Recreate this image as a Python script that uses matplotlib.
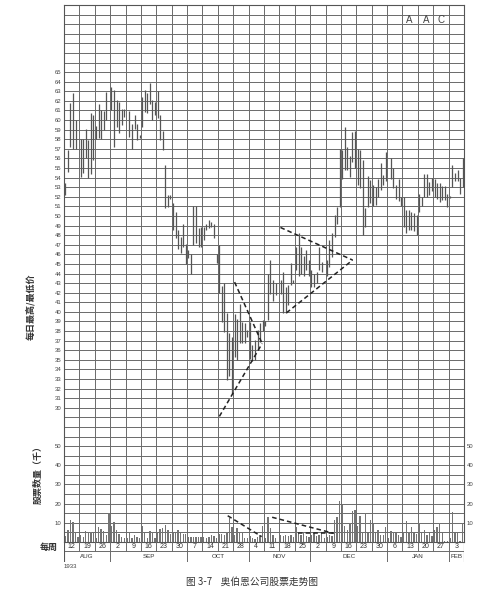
import numpy as np
import matplotlib
matplotlib.use("Agg")
import matplotlib.pyplot as plt

plt.rcParams['font.family'] = ['Liberation Sans', 'Noto Sans CJK SC', 'DejaVu Sans']

nan = np.nan
# Week-ending dates and months
week_labels = ["12", "19", "26", "2", "9", "16", "23", "30", "7", "14", "21", "28",
               "4", "11", "18", "25", "2", "9", "16", "23", "30", "6", "13", "20", "27", "3"]
months = ["AUG", "SEP", "OCT", "NOV", "DEC", "JAN", "FEB"]
month_weeks = [3, 5, 4, 4, 5, 4, 1]

# Daily highs / lows (6 trading days per week)
highs = [
    [53.4, 56.9, 61.8, 62.8, 60.0, nan],
    [58.0, 58.0, 59.1, 57.9, 60.7, 60.5],
    [59.4, 61.7, 61.0, 60.9, 62.9, nan],
    [63.4, 63.1, 62.1, 61.9, 61.2, 61.2],
    [nan, 60.9, 59.6, 60.5, 59.6, 58.4],
    [62.4, 63.1, 62.8, 63.9, 62.1, 61.9],
    [63.0, 60.5, 58.9, 55.3, 52.2, 52.2],
    [51.3, 50.4, 48.5, 47.8, 49.2, 47.1],
    [46.5, 46.0, 51.0, 51.0, 48.7, 48.9],
    [48.9, 49.2, 49.6, 49.4, 49.2, 46.0],
    [47.0, 42.7, 43.0, 39.9, 37.8, 37.4],
    [39.8, 39.3, 40.8, 38.9, 38.8, 38.1],
    [38.9, 36.5, 37.1, 38.1, 38.8, 39.2],
    [39.0, 44.0, 45.4, 43.3, 43.0, nan],
    [43.3, 44.2, 42.6, 42.8, 45.1, 43.3],
    [46.8, 48.2, 46.8, 45.8, 46.5, 45.4],
    [44.4, 44.0, 44.2, 46.8, 45.2, nan],
    [45.4, 47.5, 48.2, 50.1, 50.9, 57.0],
    [56.9, 59.3, 57.2, 56.3, 58.8, 58.9],
    [57.0, 56.9, 55.8, 50.8, 54.2, 53.7],
    [53.2, 53.0, 53.9, 55.5, 54.3, 56.7],
    [nan, 56.0, 55.0, 53.2, 53.9, 52.0],
    [52.0, 50.6, 50.6, 50.4, 50.3, 50.1],
    [52.3, 52.0, 54.4, 54.4, 53.5, 54.0],
    [53.9, 53.4, 53.4, 53.1, 53.1, 52.3],
    [52.1, 55.3, 54.5, 54.8, 54.0, 56.0],
]
lows = [
    [52.2, 54.6, 57.2, 57.0, 57.0, nan],
    [54.1, 54.5, 56.0, 54.0, 54.4, 55.8],
    [58.0, 58.1, 58.0, 59.0, 60.0, nan],
    [61.1, 57.2, 59.3, 58.6, 59.5, 60.3],
    [nan, 58.2, 57.0, 59.1, 57.9, 58.1],
    [59.3, 60.8, 60.7, 61.7, 60.0, 60.5],
    [60.2, 57.9, 56.9, 50.8, 50.9, 51.8],
    [48.5, 47.7, 46.6, 46.1, 46.8, 45.0],
    [45.6, 44.0, 47.0, 47.2, 46.8, 46.8],
    [47.5, 48.5, 48.7, 48.9, 47.7, 45.1],
    [42.0, 38.9, 37.9, 32.9, 33.3, 31.4],
    [35.3, 35.0, 36.8, 36.8, 36.8, 37.4],
    [35.1, 34.9, 35.0, 36.0, 36.9, 38.0],
    [38.5, 39.2, 41.9, 41.1, 41.8, nan],
    [41.9, 39.9, 39.9, 40.7, 42.8, 43.0],
    [44.4, 43.7, 44.0, 43.7, 44.4, 43.7],
    [42.6, 42.6, 43.0, 44.4, 44.2, nan],
    [43.7, 44.7, 45.7, 47.8, 49.2, 50.9],
    [53.9, 54.8, 54.8, 54.1, 55.6, 55.0],
    [53.2, 52.9, 48.0, 48.9, 50.9, 51.3],
    [51.0, 51.1, 52.0, 52.7, 53.2, 53.6],
    [nan, 53.9, 52.9, 51.8, 51.6, 51.0],
    [48.9, 48.2, 48.5, 48.5, 48.4, 48.0],
    [50.4, 51.0, 52.0, 52.0, 52.2, 52.6],
    [52.0, 51.8, 51.5, 51.7, 51.7, 50.9],
    [51.9, 53.0, 53.6, 53.6, 52.3, 53.0],
]
# Daily volume (thousands of shares)
volume = [
    [3.0, 6.0, 11.5, 10.5, 5.0, 2.8],
    [3.6, 2.8, 5.7, 5.4, 5.0, 4.8],
    [1.9, 7.6, 6.8, 5.5, 3.6, 15.0],
    [8.5, 10.6, 6.2, 4.0, 2.8, 1.9],
    [1.9, 4.5, 2.0, 3.6, 2.8, 1.9],
    [8.3, 4.5, 2.3, 5.7, 5.4, 1.9],
    [4.5, 6.6, 7.1, 8.8, 6.2, 4.0],
    [4.5, 5.4, 6.2, 4.8, 4.0, 4.2],
    [2.4, 2.6, 2.7, 2.7, 2.8, 2.8],
    [2.6, 2.2, 2.8, 3.6, 3.3, 2.2],
    [4.0, 4.3, 3.6, 5.0, 12.7, 8.0],
    [3.6, 7.5, 4.5, 4.8, 2.3, 2.3],
    [3.3, 2.3, 1.6, 2.8, 3.6, 8.4],
    [1.9, 13.0, 7.2, 3.7, 1.9, nan],
    [3.7, 3.3, 3.7, 3.2, 3.7, 2.5],
    [7.7, 4.6, 3.7, 4.6, 3.2, 2.5],
    [3.7, 4.6, 3.2, 3.7, 5.4, 2.0],
    [2.5, 3.5, 3.2, 11.6, 13.0, 21.2],
    [19.5, 8.4, 6.3, 9.8, 16.0, 16.8],
    [8.4, 13.3, 5.4, 15.1, 4.6, 11.6],
    [9.5, 4.6, 6.3, 3.7, 3.5, 7.7],
    [2.0, 5.8, 5.4, 4.6, 3.7, 2.8],
    [5.4, 10.7, 5.0, 8.0, 4.6, 4.0],
    [9.8, 4.8, 6.3, 3.7, 4.6, 3.2],
    [6.3, 8.0, 9.8, 4.6, 0.7, 0.5],
    [1.9, 15.4, 4.6, 4.6, 0.7, 9.8],
]
# Trend lines (x in weeks from start, y in price / volume)
tri1_upper_x, tri1_upper_y = [11.09, 12.88], [43.1, 36.7]
tri1_lower_x, tri1_lower_y = [10.10, 12.88], [29.1, 36.7]
tri2_upper_x, tri2_upper_y = [14.07, 18.76], [48.8, 45.4]
tri2_lower_x, tri2_lower_y = [14.46, 18.76], [39.9, 45.4]
vol1_x, vol1_y = [10.64, 12.85], [13.7, 2.8]
vol2_x, vol2_y = [13.53, 17.54], [12.9, 4.5]
vol3_x, vol3_y = [15.24, 17.54], [4.5, 4.5]

W, H = 494, 599
fig = plt.figure(figsize=(W / 100, H / 100), dpi=100)
fig.patch.set_facecolor('white')

L, R, T, B = 64, 464, 5, 542
ax = fig.add_axes([L / W, 1 - B / H, (R - L) / W, (B - T) / H])
nweeks = len(week_labels)
ax.set_xlim(0, nweeks)
ax.set_ylim(16, 72)

gc = '#6a6a6a'
ax.set_xticks(range(0, nweeks + 1))
ax.set_yticks(range(16, 73), minor=True)
ax.set_yticks(range(30, 66))
ax.set_yticklabels([str(v) for v in range(30, 66)])
ax.grid(True, which='minor', axis='y', color=gc, lw=0.7)
ax.grid(True, which='major', axis='both', color=gc, lw=0.7)
ax.tick_params(axis='x', length=0, labelbottom=False)
ax.tick_params(axis='y', which='both', length=0, labelsize=4.3, labelcolor='#444',
               left=False, right=False, labelleft=True, labelright=True, pad=2)
for s in ax.spines.values():
    s.set_color('#555')
    s.set_linewidth(0.8)
ax.set_axisbelow(True)

hi = np.array(highs, dtype=float)
lo = np.array(lows, dtype=float)
vol = np.array(volume, dtype=float)
days = hi.shape[1]
xs = np.array([[k + (d + 0.5) / days for d in range(days)] for k in range(nweeks)])
ax.vlines(xs.ravel(), lo.ravel(), hi.ravel(), color='#555555', lw=0.9, zorder=3)

dash = dict(color='#222', lw=1.1, ls=(0, (3, 2)), zorder=4)
ax.plot(tri1_upper_x, tri1_upper_y, **dash)
ax.plot(tri1_lower_x, tri1_lower_y, **dash)
ax.plot(tri2_upper_x, tri2_upper_y, **dash)
ax.plot(tri2_lower_x, tri2_lower_y, **dash)

axv = ax.twinx()
axv.set_ylim(0, 280)
axv.set_xlim(0, nweeks)
axv.bar(xs.ravel(), vol.ravel(), width=0.09, color='#747474', zorder=3)
axv.plot(vol1_x, vol1_y, **dash)
axv.plot(vol2_x, vol2_y, **dash)
axv.plot(vol3_x, vol3_y, **dash)
axv.set_yticks([10, 20, 30, 40, 50])
axv.tick_params(axis='y', length=0, labelsize=4.3, labelcolor='#444',
                left=False, right=False, labelleft=True, labelright=True, pad=2)
for s in axv.spines.values():
    s.set_visible(False)

# Label rows under the chart
axl = fig.add_axes([L / W, 1 - 562 / H, (R - L) / W, 20 / H])
axl.set_xlim(0, nweeks)
axl.set_ylim(0, 20)
axl.axis('off')
axl.plot([0, nweeks], [11, 11], color=gc, lw=0.7)
axl.plot([0, nweeks], [0, 0], color=gc, lw=0.7)
axl.plot([0, 0], [0, 20], color='#555', lw=0.8)
axl.plot([nweeks, nweeks], [0, 20], color='#555', lw=0.8)
for k in range(1, nweeks):
    axl.plot([k, k], [11, 20], color=gc, lw=0.7)
for k, lab in enumerate(week_labels):
    axl.text(k + 0.5, 15.5, lab, ha='center', va='center', fontsize=5, color='#333')
start = 0
for m, n in zip(months, month_weeks):
    if start > 0:
        axl.plot([start, start], [0, 11], color=gc, lw=0.7)
    axl.text(start + n / 2, 5.5, m, ha='center', va='center', fontsize=4.5, color='#333')
    start += n

cjk = ['Noto Sans CJK SC', 'DejaVu Sans']
fig.text(64 / W, 1 - 567 / H, "1933", fontsize=4.3, color='#444', ha='left', va='center')
fig.text(32 / W, 1 - 307 / H, "每日最高/最低价", rotation=90, fontsize=6.5, family=cjk,
         fontweight='bold', color='#333', ha='center', va='center')
fig.text(38 / W, 1 - 473 / H, "股票数量（千）", rotation=90, fontsize=6.5, family=cjk,
         fontweight='bold', color='#333', ha='center', va='center')
fig.text(49 / W, 1 - 547 / H, "每周", fontsize=6.5, family=cjk, fontweight='bold',
         color='#333', ha='center', va='center')
fig.text(252 / W, 1 - 582 / H, "图 3-7    奥伯恩公司股票走势图", fontsize=7, family=cjk,
         color='#333', ha='center', va='center')
for xx, ch in zip([409, 426, 441], ["A", "A", "C"]):
    fig.text(xx / W, 1 - 20 / H, ch, fontsize=7, color='#444', ha='center', va='center')

fig.savefig("out.png", dpi=100, facecolor='white')
